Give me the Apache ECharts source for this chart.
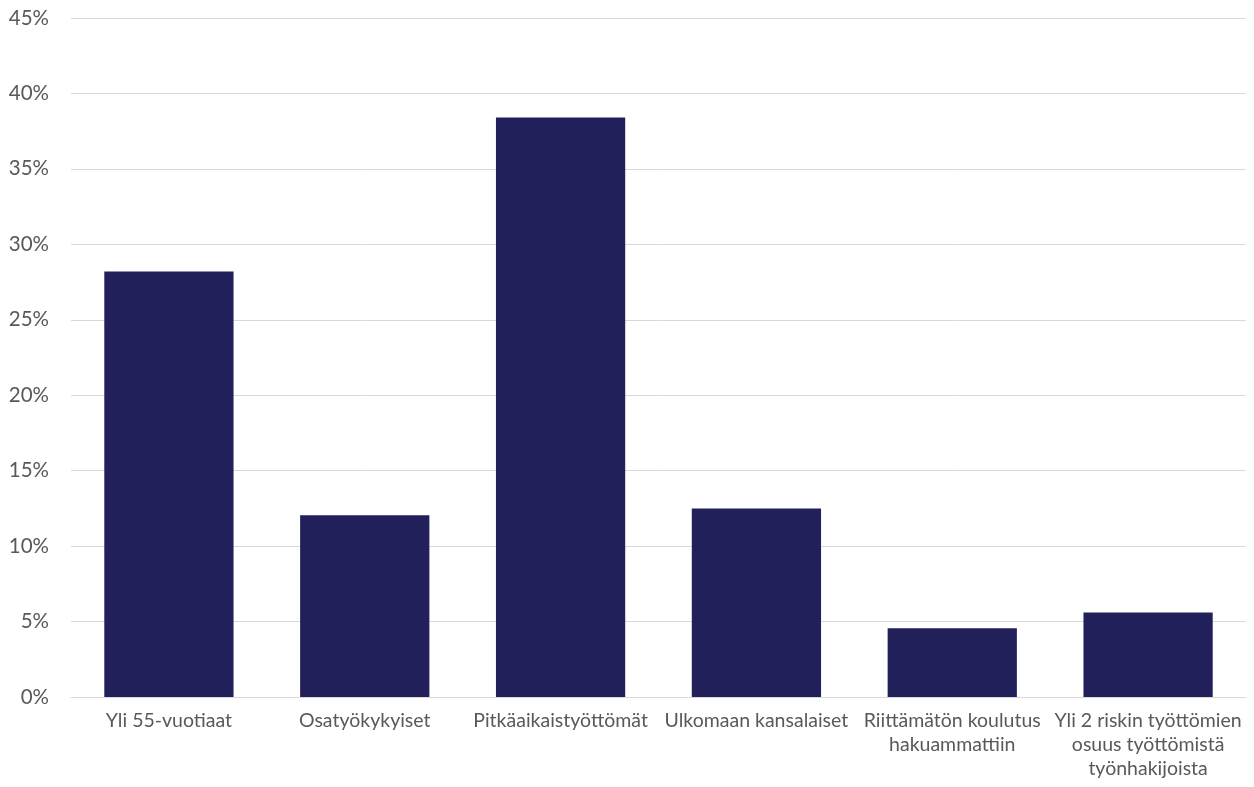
<!DOCTYPE html>
<html><head><meta charset="utf-8">
<script src="https://cdn.jsdelivr.net/npm/echarts@6/dist/echarts.min.js"></script>
<style>html,body{margin:0;padding:0;background:#fff}#c{width:1254px;height:787px}</style>
</head><body><div id="c"></div>
<script>
const categories = ["Yli 55-vuotiaat","Osatyökykyiset","Pitkäaikaistyöttömät","Ulkomaan kansalaiset","Riittämätön koulutus\nhakuammattiin","Yli 2 riskin työttömien\nosuus työttömistä\ntyönhakijoista"];
const values = [28.2, 12.05, 38.4, 12.5, 4.55, 5.6];
const yTicks = {min: 0, max: 45, interval: 5};
const chart = echarts.init(document.getElementById('c'));
chart.setOption({
  animation: false,
  grid: {left: 71, right: 8, top: 18, bottom: 90, containLabel: false},
  xAxis: {
    type: 'category', data: categories,
    axisLine: {show: true, lineStyle: {color: '#d9d9d9', width: 1}},
    axisTick: {show: false},
    axisLabel: {interval: 0, color: '#595959', fontSize: 19.5, fontFamily: 'Lato, Open Sans, sans-serif', lineHeight: 24, margin: 12}
  },
  yAxis: {
    type: 'value', min: yTicks.min, max: yTicks.max, interval: yTicks.interval,
    axisLine: {show: false}, axisTick: {show: false},
    splitLine: {lineStyle: {color: '#d9d9d9', width: 1}},
    axisLabel: {formatter: v => v + '%', color: '#595959', fontSize: 20.5, fontFamily: 'Lato, Open Sans, sans-serif', margin: 22}
  },
  series: [{
    type: 'bar', data: values, barCategoryGap: '34%',
    itemStyle: {color: '#22205a'}
  }]
});
</script></body></html>
